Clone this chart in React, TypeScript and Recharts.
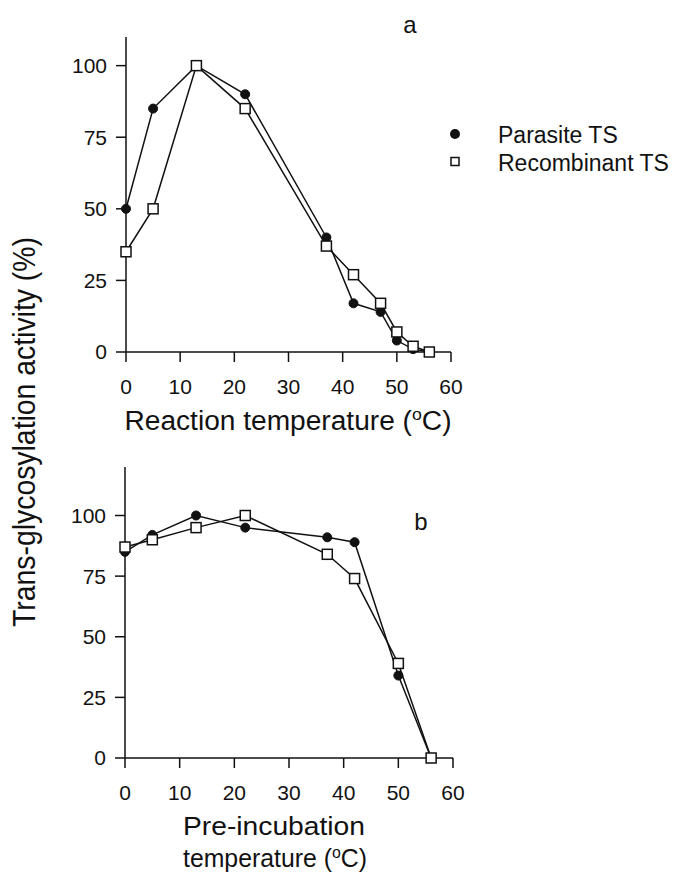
import { LineChart, Line, XAxis, YAxis } from "recharts";

// panel a: reaction temperature
const reactionTemps = [0, 5, 13, 22, 37, 42, 47, 50, 53, 56];
const parasiteA = [50, 85, 100, 90, 40, 17, 14, 4, 1, 0];
const recombinantA = [35, 50, 100, 85, 37, 27, 17, 7, 2, 0];

// panel b: pre-incubation temperature
const preincTemps = [0, 5, 13, 22, 37, 42, 50, 56];
const parasiteB = [85, 92, 100, 95, 91, 89, 34, 0];
const recombinantB = [87, 90, 95, 100, 84, 74, 39, 0];

const xTicks = [0, 10, 20, 30, 40, 50, 60];
const yTicks = [0, 25, 50, 75, 100];

const FONT = "'Liberation Sans', Arial, Helvetica, sans-serif";
const INK = "#111";

const dataA = reactionTemps.map((t, i) => ({ temp: t, parasite: parasiteA[i], recombinant: recombinantA[i] }));
const dataB = preincTemps.map((t, i) => ({ temp: t, parasite: parasiteB[i], recombinant: recombinantB[i] }));

const XTick = (props: any) => {
  const { x, y, payload } = props;
  return (
    <text x={x} y={y} dy="0.71em" textAnchor="middle" fontSize={21} fontFamily={FONT} fill={INK}>
      {payload.value}
    </text>
  );
};

const YTick = (props: any) => {
  const { x, y, payload } = props;
  return (
    <text x={x} y={y} dy="0.355em" textAnchor="end" fontSize={21} fontFamily={FONT} fill={INK}>
      {payload.value}
    </text>
  );
};

const SquareDot = (props: any) => {
  const { cx, cy, index } = props;
  if (cx == null || cy == null) return <g key={index} />;
  return <rect key={index} x={cx - 5} y={cy - 5} width={10} height={10} fill="#fff" stroke={INK} strokeWidth={1.5} />;
};

const axisLine = { stroke: INK, strokeWidth: 1.5 };

function Panel({ data, yMax, margin, height }: { data: any[]; yMax: number; margin: any; height: number }) {
  return (
    <LineChart width={678} height={height} data={data} margin={margin}>
      <XAxis
        type="number"
        dataKey="temp"
        domain={[0, 60]}
        ticks={xTicks}
        height={60}
        tickSize={10}
        tickMargin={17}
        axisLine={axisLine}
        tickLine={axisLine}
        tick={<XTick />}
        interval={0}
      />
      <YAxis
        type="number"
        domain={[0, yMax]}
        ticks={yTicks}
        width={60}
        tickSize={10}
        tickMargin={9}
        axisLine={axisLine}
        tickLine={axisLine}
        tick={<YTick />}
        interval={0}
      />
      <Line
        type="linear"
        dataKey="parasite"
        stroke={INK}
        strokeWidth={1.5}
        dot={{ r: 4.5, fill: INK, stroke: INK, strokeWidth: 1 }}
        activeDot={false}
        isAnimationActive={false}
      />
      <Line
        type="linear"
        dataKey="recombinant"
        stroke={INK}
        strokeWidth={1.5}
        dot={<SquareDot />}
        activeDot={false}
        isAnimationActive={false}
      />
    </LineChart>
  );
}

export default function App() {
  return (
    <div style={{ position: "absolute", left: 0, top: 0, width: 678, height: 881, background: "#fff", fontFamily: FONT }}>
      <div style={{ position: "absolute", left: 0, top: 0 }}>
        <Panel data={dataA} yMax={110} height={440} margin={{ top: 37, right: 227, left: 66, bottom: 28 }} />
      </div>
      <div style={{ position: "absolute", left: 0, top: 430 }}>
        <Panel data={dataB} yMax={120} height={400} margin={{ top: 37, right: 225, left: 65, bottom: 12 }} />
      </div>
      <svg width={678} height={881} style={{ position: "absolute", left: 0, top: 0, pointerEvents: "none" }} fontFamily={FONT}>
        <text
          transform="translate(35,432) rotate(-90)"
          textAnchor="middle"
          fontSize={31}
          textLength={390}
          lengthAdjust="spacingAndGlyphs"
          fill={INK}
        >
          Trans-glycosylation activity (%)
        </text>
        <text x={288} y={430} textAnchor="middle" fontSize={27} textLength={327} lengthAdjust="spacingAndGlyphs" fill={INK}>
          Reaction temperature (<tspan fontSize={17} dy={-10}>o</tspan>
          <tspan dy={10}>C)</tspan>
        </text>
        <text x={274} y={835} textAnchor="middle" fontSize={25} textLength={182} lengthAdjust="spacingAndGlyphs" fill={INK}>
          Pre-incubation
        </text>
        <text x={275} y={867} textAnchor="middle" fontSize={25} textLength={184} lengthAdjust="spacingAndGlyphs" fill={INK}>
          temperature (<tspan fontSize={16} dy={-9}>o</tspan>
          <tspan dy={9}>C)</tspan>
        </text>
        <text x={410} y={33} textAnchor="middle" fontSize={24} fill={INK}>a</text>
        <text x={421} y={530} textAnchor="middle" fontSize={24} fill={INK}>b</text>
        <circle cx={455} cy={134} r={5} fill={INK} />
        <rect x={451} y={157.5} width={8} height={8} fill="#fff" stroke={INK} strokeWidth={1.5} />
        <text x={498} y={143} fontSize={23} fill={INK}>Parasite TS</text>
        <text x={498} y={171} fontSize={23} fill={INK}>Recombinant TS</text>
      </svg>
    </div>
  );
}
